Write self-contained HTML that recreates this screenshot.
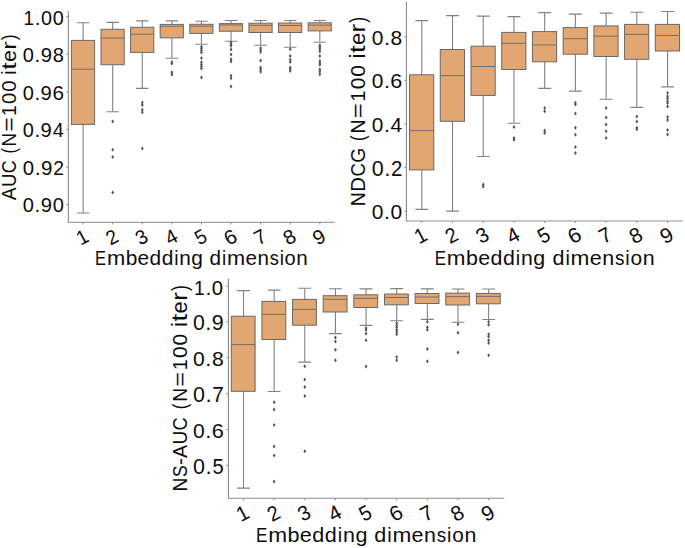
<!DOCTYPE html>
<html lang="en">
<head>
<meta charset="utf-8">
<title>Boxplots</title>
<style>
html,body{margin:0;padding:0;background:#fff;}
body{width:685px;height:548px;overflow:hidden;font-family:"Liberation Sans",sans-serif;}
svg{display:block;}
</style>
</head>
<body>
<svg width="685" height="548" viewBox="0 0 685 548" font-family="'Liberation Sans', sans-serif" fill="#0d0d0d">
<rect x="0" y="0" width="685" height="548" fill="#fff"/>
<g>
<path d="M83.1 22.8V40.4M83.1 124.4V213" stroke="#828282" stroke-width="1.1" fill="none"/>
<path d="M76.89 22.8H89.31M76.89 213H89.31" stroke="#828282" stroke-width="1.1" fill="none"/>
<rect x="71.4" y="40.4" width="23.2" height="84" fill="#E2A672" stroke="#6c6866" stroke-width="1"/>
<path d="M71.4 69.2H94.6" stroke="#6c6866" stroke-width="0.9" fill="none"/>
<path d="M112.69 22.4V29.3M112.69 64.7V111.8" stroke="#828282" stroke-width="1.1" fill="none"/>
<path d="M106.48 22.4H118.9M106.48 111.8H118.9" stroke="#828282" stroke-width="1.1" fill="none"/>
<rect x="100.99" y="29.3" width="23.2" height="35.4" fill="#E2A672" stroke="#6c6866" stroke-width="1"/>
<path d="M100.99 38.1H124.19" stroke="#6c6866" stroke-width="0.9" fill="none"/>
<path d="M112.69 119.6l1.4 2l-1.4 2l-1.4 -2z" fill="#555555"/>
<path d="M112.69 147.7l1.4 2l-1.4 2l-1.4 -2z" fill="#555555"/>
<path d="M112.69 155l1.4 2l-1.4 2l-1.4 -2z" fill="#555555"/>
<path d="M112.69 190.5l1.4 2l-1.4 2l-1.4 -2z" fill="#555555"/>
<path d="M142.28 20.9V27.3M142.28 52.4V88.4" stroke="#828282" stroke-width="1.1" fill="none"/>
<path d="M136.07 20.9H148.49M136.07 88.4H148.49" stroke="#828282" stroke-width="1.1" fill="none"/>
<rect x="130.58" y="27.3" width="23.2" height="25.1" fill="#E2A672" stroke="#6c6866" stroke-width="1"/>
<path d="M130.58 34.2H153.78" stroke="#6c6866" stroke-width="0.9" fill="none"/>
<path d="M142.28 100.5l1.4 2l-1.4 2l-1.4 -2z" fill="#555555"/>
<path d="M142.28 103l1.4 2l-1.4 2l-1.4 -2z" fill="#555555"/>
<path d="M142.28 107.8l1.4 2l-1.4 2l-1.4 -2z" fill="#555555"/>
<path d="M142.28 110.3l1.4 2l-1.4 2l-1.4 -2z" fill="#555555"/>
<path d="M142.28 146.4l1.4 2l-1.4 2l-1.4 -2z" fill="#555555"/>
<path d="M171.87 20.9V24.4M171.87 37.9V58.3" stroke="#828282" stroke-width="1.1" fill="none"/>
<path d="M165.66 20.9H178.08M165.66 58.3H178.08" stroke="#828282" stroke-width="1.1" fill="none"/>
<rect x="160.17" y="24.4" width="23.2" height="13.5" fill="#E2A672" stroke="#6c6866" stroke-width="1"/>
<path d="M160.17 26.3H183.37" stroke="#6c6866" stroke-width="0.9" fill="none"/>
<path d="M171.87 60l1.4 2l-1.4 2l-1.4 -2z" fill="#555555"/>
<path d="M171.87 61.6l1.4 2l-1.4 2l-1.4 -2z" fill="#555555"/>
<path d="M171.87 70.3l1.4 2l-1.4 2l-1.4 -2z" fill="#555555"/>
<path d="M171.87 72.4l1.4 2l-1.4 2l-1.4 -2z" fill="#555555"/>
<path d="M201.46 21.3V24.3M201.46 33.4V44.3" stroke="#828282" stroke-width="1.1" fill="none"/>
<path d="M195.25 21.3H207.67M195.25 44.3H207.67" stroke="#828282" stroke-width="1.1" fill="none"/>
<rect x="189.76" y="24.3" width="23.2" height="9.1" fill="#E2A672" stroke="#6c6866" stroke-width="1"/>
<path d="M189.76 26.2H212.96" stroke="#6c6866" stroke-width="0.9" fill="none"/>
<path d="M201.46 44.8l1.4 2l-1.4 2l-1.4 -2z" fill="#555555"/>
<path d="M201.46 46.6l1.4 2l-1.4 2l-1.4 -2z" fill="#555555"/>
<path d="M201.46 48.6l1.4 2l-1.4 2l-1.4 -2z" fill="#555555"/>
<path d="M201.46 50.6l1.4 2l-1.4 2l-1.4 -2z" fill="#555555"/>
<path d="M201.46 56l1.4 2l-1.4 2l-1.4 -2z" fill="#555555"/>
<path d="M201.46 60.2l1.4 2l-1.4 2l-1.4 -2z" fill="#555555"/>
<path d="M201.46 62.4l1.4 2l-1.4 2l-1.4 -2z" fill="#555555"/>
<path d="M201.46 64.6l1.4 2l-1.4 2l-1.4 -2z" fill="#555555"/>
<path d="M201.46 66.6l1.4 2l-1.4 2l-1.4 -2z" fill="#555555"/>
<path d="M201.46 75.4l1.4 2l-1.4 2l-1.4 -2z" fill="#555555"/>
<path d="M231.05 20.5V23.6M231.05 31.2V41.3" stroke="#828282" stroke-width="1.1" fill="none"/>
<path d="M224.84 20.5H237.26M224.84 41.3H237.26" stroke="#828282" stroke-width="1.1" fill="none"/>
<rect x="219.35" y="23.6" width="23.2" height="7.6" fill="#E2A672" stroke="#6c6866" stroke-width="1"/>
<path d="M219.35 24.9H242.55" stroke="#6c6866" stroke-width="0.9" fill="none"/>
<path d="M231.05 40.6l1.4 2l-1.4 2l-1.4 -2z" fill="#555555"/>
<path d="M231.05 42.2l1.4 2l-1.4 2l-1.4 -2z" fill="#555555"/>
<path d="M231.05 43.8l1.4 2l-1.4 2l-1.4 -2z" fill="#555555"/>
<path d="M231.05 47.4l1.4 2l-1.4 2l-1.4 -2z" fill="#555555"/>
<path d="M231.05 52.6l1.4 2l-1.4 2l-1.4 -2z" fill="#555555"/>
<path d="M231.05 57.2l1.4 2l-1.4 2l-1.4 -2z" fill="#555555"/>
<path d="M231.05 59.4l1.4 2l-1.4 2l-1.4 -2z" fill="#555555"/>
<path d="M231.05 73.8l1.4 2l-1.4 2l-1.4 -2z" fill="#555555"/>
<path d="M231.05 76.2l1.4 2l-1.4 2l-1.4 -2z" fill="#555555"/>
<path d="M231.05 84.4l1.4 2l-1.4 2l-1.4 -2z" fill="#555555"/>
<path d="M260.64 20.5V23.2M260.64 32.5V45.2" stroke="#828282" stroke-width="1.1" fill="none"/>
<path d="M254.43 20.5H266.85M254.43 45.2H266.85" stroke="#828282" stroke-width="1.1" fill="none"/>
<rect x="248.94" y="23.2" width="23.2" height="9.3" fill="#E2A672" stroke="#6c6866" stroke-width="1"/>
<path d="M248.94 25.3H272.14" stroke="#6c6866" stroke-width="0.9" fill="none"/>
<path d="M260.64 46l1.4 2l-1.4 2l-1.4 -2z" fill="#555555"/>
<path d="M260.64 48.1l1.4 2l-1.4 2l-1.4 -2z" fill="#555555"/>
<path d="M260.64 50l1.4 2l-1.4 2l-1.4 -2z" fill="#555555"/>
<path d="M260.64 58.4l1.4 2l-1.4 2l-1.4 -2z" fill="#555555"/>
<path d="M260.64 65.4l1.4 2l-1.4 2l-1.4 -2z" fill="#555555"/>
<path d="M260.64 67.6l1.4 2l-1.4 2l-1.4 -2z" fill="#555555"/>
<path d="M260.64 69.7l1.4 2l-1.4 2l-1.4 -2z" fill="#555555"/>
<path d="M290.23 20.5V23M290.23 32.5V47.3" stroke="#828282" stroke-width="1.1" fill="none"/>
<path d="M284.02 20.5H296.44M284.02 47.3H296.44" stroke="#828282" stroke-width="1.1" fill="none"/>
<rect x="278.53" y="23" width="23.2" height="9.5" fill="#E2A672" stroke="#6c6866" stroke-width="1"/>
<path d="M278.53 25.5H301.73" stroke="#6c6866" stroke-width="0.9" fill="none"/>
<path d="M290.23 47.2l1.4 2l-1.4 2l-1.4 -2z" fill="#555555"/>
<path d="M290.23 54l1.4 2l-1.4 2l-1.4 -2z" fill="#555555"/>
<path d="M290.23 57.8l1.4 2l-1.4 2l-1.4 -2z" fill="#555555"/>
<path d="M290.23 60l1.4 2l-1.4 2l-1.4 -2z" fill="#555555"/>
<path d="M290.23 65.4l1.4 2l-1.4 2l-1.4 -2z" fill="#555555"/>
<path d="M290.23 67l1.4 2l-1.4 2l-1.4 -2z" fill="#555555"/>
<path d="M290.23 68.9l1.4 2l-1.4 2l-1.4 -2z" fill="#555555"/>
<path d="M319.82 20.5V22.8M319.82 30.9V42.2" stroke="#828282" stroke-width="1.1" fill="none"/>
<path d="M313.61 20.5H326.03M313.61 42.2H326.03" stroke="#828282" stroke-width="1.1" fill="none"/>
<rect x="308.12" y="22.8" width="23.2" height="8.1" fill="#E2A672" stroke="#6c6866" stroke-width="1"/>
<path d="M308.12 25.1H331.32" stroke="#6c6866" stroke-width="0.9" fill="none"/>
<path d="M319.82 43.3l1.4 2l-1.4 2l-1.4 -2z" fill="#555555"/>
<path d="M319.82 45.2l1.4 2l-1.4 2l-1.4 -2z" fill="#555555"/>
<path d="M319.82 47l1.4 2l-1.4 2l-1.4 -2z" fill="#555555"/>
<path d="M319.82 49.2l1.4 2l-1.4 2l-1.4 -2z" fill="#555555"/>
<path d="M319.82 54l1.4 2l-1.4 2l-1.4 -2z" fill="#555555"/>
<path d="M319.82 58.9l1.4 2l-1.4 2l-1.4 -2z" fill="#555555"/>
<path d="M319.82 61.1l1.4 2l-1.4 2l-1.4 -2z" fill="#555555"/>
<path d="M319.82 62.7l1.4 2l-1.4 2l-1.4 -2z" fill="#555555"/>
<path d="M319.82 67.6l1.4 2l-1.4 2l-1.4 -2z" fill="#555555"/>
<path d="M319.82 69.7l1.4 2l-1.4 2l-1.4 -2z" fill="#555555"/>
<path d="M319.82 72.2l1.4 2l-1.4 2l-1.4 -2z" fill="#555555"/>
<path d="M68.3 11.2V222.9" stroke="#7d7d7d" stroke-width="1" fill="none"/>
<path d="M67.8 222.4H334.7" stroke="#a2a2a2" stroke-width="1.1" fill="none"/>
<path d="M83.1 222.4v2M112.69 222.4v2M142.28 222.4v2M171.87 222.4v2M201.46 222.4v2M231.05 222.4v2M260.64 222.4v2M290.23 222.4v2M319.82 222.4v2M68.3 16.5h-2M68.3 54.2h-2M68.3 92h-2M68.3 129.3h-2M68.3 167.2h-2M68.3 204.4h-2" stroke="#8a8a8a" stroke-width="1" fill="none"/>
<g font-size="19.77"><text x="23.39" y="24.56" textLength="10.48" lengthAdjust="spacingAndGlyphs">1</text><text x="34.71" y="24.56" textLength="5.72" lengthAdjust="spacingAndGlyphs">.</text><text x="40.95" y="24.56" textLength="11.02" lengthAdjust="spacingAndGlyphs">0</text><text x="52.8" y="24.56" textLength="11.02" lengthAdjust="spacingAndGlyphs">0</text></g>
<g font-size="20"><text x="22.8" y="62.26" textLength="11.15" lengthAdjust="spacingAndGlyphs">0</text><text x="34.47" y="62.26" textLength="5.79" lengthAdjust="spacingAndGlyphs">.</text><text x="40.67" y="62.26" textLength="11.27" lengthAdjust="spacingAndGlyphs">9</text><text x="52.77" y="62.26" textLength="11.15" lengthAdjust="spacingAndGlyphs">8</text></g>
<g font-size="19.95"><text x="22.8" y="100.06" textLength="11.12" lengthAdjust="spacingAndGlyphs">0</text><text x="34.45" y="100.06" textLength="5.77" lengthAdjust="spacingAndGlyphs">.</text><text x="40.63" y="100.06" textLength="11.25" lengthAdjust="spacingAndGlyphs">9</text><text x="52.57" y="100.06" textLength="11.48" lengthAdjust="spacingAndGlyphs">6</text></g>
<g font-size="19.91"><text x="22.8" y="137.36" textLength="11.09" lengthAdjust="spacingAndGlyphs">0</text><text x="34.42" y="137.36" textLength="5.76" lengthAdjust="spacingAndGlyphs">.</text><text x="40.59" y="137.36" textLength="11.22" lengthAdjust="spacingAndGlyphs">9</text><text x="52.66" y="137.36" textLength="11.06" lengthAdjust="spacingAndGlyphs">4</text></g>
<g font-size="20.34"><text x="22.78" y="175.26" textLength="11.34" lengthAdjust="spacingAndGlyphs">0</text><text x="34.66" y="175.26" textLength="5.89" lengthAdjust="spacingAndGlyphs">.</text><text x="40.96" y="175.26" textLength="11.46" lengthAdjust="spacingAndGlyphs">9</text><text x="53.31" y="175.26" textLength="10.78" lengthAdjust="spacingAndGlyphs">2</text></g>
<g font-size="20"><text x="22.8" y="212.46" textLength="11.15" lengthAdjust="spacingAndGlyphs">0</text><text x="34.47" y="212.46" textLength="5.79" lengthAdjust="spacingAndGlyphs">.</text><text x="40.67" y="212.46" textLength="11.27" lengthAdjust="spacingAndGlyphs">9</text><text x="52.78" y="212.46" textLength="11.15" lengthAdjust="spacingAndGlyphs">0</text></g>
<g font-size="20.16" transform="rotate(-28 82.4 237)"><text x="76.83" y="243.96" textLength="10.69" lengthAdjust="spacingAndGlyphs">1</text></g>
<g font-size="20.16" transform="rotate(-28 111.99 237)"><text x="106.66" y="244.06" textLength="10.68" lengthAdjust="spacingAndGlyphs">2</text></g>
<g font-size="20.16" transform="rotate(-28 141.58 237)"><text x="136.24" y="243.96" textLength="10.79" lengthAdjust="spacingAndGlyphs">3</text></g>
<g font-size="20.16" transform="rotate(-28 171.17 237)"><text x="165.63" y="243.96" textLength="11.2" lengthAdjust="spacingAndGlyphs">4</text></g>
<g font-size="20.16" transform="rotate(-28 200.76 237)"><text x="195.49" y="243.85" textLength="10.57" lengthAdjust="spacingAndGlyphs">5</text></g>
<g font-size="20.16" transform="rotate(-28 230.35 237)"><text x="224.51" y="243.96" textLength="11.6" lengthAdjust="spacingAndGlyphs">6</text></g>
<g font-size="20.16" transform="rotate(-28 259.94 237)"><text x="254.49" y="243.96" textLength="10.92" lengthAdjust="spacingAndGlyphs">7</text></g>
<g font-size="20.16" transform="rotate(-28 289.53 237)"><text x="283.87" y="243.96" textLength="11.24" lengthAdjust="spacingAndGlyphs">8</text></g>
<g font-size="20.16" transform="rotate(-28 319.12 237)"><text x="313.45" y="243.96" textLength="11.36" lengthAdjust="spacingAndGlyphs">9</text></g>
<g font-size="20.36"><text x="95.08" y="264.9" textLength="11.04" lengthAdjust="spacingAndGlyphs">E</text><text x="106.91" y="264.9" textLength="18.27" lengthAdjust="spacingAndGlyphs">m</text><text x="125.67" y="264.9" textLength="11.62" lengthAdjust="spacingAndGlyphs">b</text><text x="137.6" y="264.9" textLength="11.59" lengthAdjust="spacingAndGlyphs">e</text><text x="149.51" y="264.9" textLength="11.62" lengthAdjust="spacingAndGlyphs">d</text><text x="161.69" y="264.9" textLength="11.62" lengthAdjust="spacingAndGlyphs">d</text><text x="174.22" y="264.9" textLength="4.26" lengthAdjust="spacingAndGlyphs">i</text><text x="179.36" y="264.9" textLength="11.55" lengthAdjust="spacingAndGlyphs">n</text><text x="191.36" y="264.9" textLength="11.62" lengthAdjust="spacingAndGlyphs">g</text></g>
<g font-size="20.23"><text x="209.57" y="264.9" textLength="11.54" lengthAdjust="spacingAndGlyphs">d</text><text x="222.02" y="264.9" textLength="4.24" lengthAdjust="spacingAndGlyphs">i</text><text x="227.05" y="264.9" textLength="18.15" lengthAdjust="spacingAndGlyphs">m</text><text x="245.43" y="264.9" textLength="11.51" lengthAdjust="spacingAndGlyphs">e</text><text x="257.42" y="264.9" textLength="11.47" lengthAdjust="spacingAndGlyphs">n</text><text x="269.63" y="264.9" textLength="9.09" lengthAdjust="spacingAndGlyphs">s</text><text x="279.63" y="264.9" textLength="4.24" lengthAdjust="spacingAndGlyphs">i</text><text x="284.6" y="264.9" textLength="11.16" lengthAdjust="spacingAndGlyphs">o</text><text x="296.39" y="264.9" textLength="11.47" lengthAdjust="spacingAndGlyphs">n</text></g>
<g font-size="20.23" transform="translate(15.7 200.1) rotate(-90)"><text x="-0.1" y="0" textLength="12.81" lengthAdjust="spacingAndGlyphs">A</text><text x="13.07" y="0" textLength="13.53" lengthAdjust="spacingAndGlyphs">U</text><text x="26.96" y="0" textLength="12.89" lengthAdjust="spacingAndGlyphs">C</text></g>
<g font-size="20.23" transform="translate(15.7 152.6) rotate(-90)"><text x="-0.97" y="0" textLength="5.39" lengthAdjust="spacingAndGlyphs">(</text><text x="6.23" y="0" textLength="13.53" lengthAdjust="spacingAndGlyphs">N</text><text x="20.86" y="0" textLength="14.35" lengthAdjust="spacingAndGlyphs">=</text><text x="36.71" y="0" textLength="10.73" lengthAdjust="spacingAndGlyphs">1</text><text x="48.63" y="0" textLength="11.28" lengthAdjust="spacingAndGlyphs">0</text><text x="60.76" y="0" textLength="11.28" lengthAdjust="spacingAndGlyphs">0</text></g>
<g font-size="20.98" transform="translate(15.7 73.4) rotate(-90)"><text x="-1.29" y="0" textLength="4.39" lengthAdjust="spacingAndGlyphs">i</text><text x="3.71" y="0" textLength="7.43" lengthAdjust="spacingAndGlyphs">t</text><text x="11.49" y="0" textLength="11.95" lengthAdjust="spacingAndGlyphs">e</text><text x="23.67" y="0" textLength="8.43" lengthAdjust="spacingAndGlyphs">r</text><text x="33.08" y="0" textLength="5.7" lengthAdjust="spacingAndGlyphs">)</text></g>
</g>
<g>
<path d="M421.8 20.6V74.8M421.8 169.9V209.4" stroke="#828282" stroke-width="1.1" fill="none"/>
<path d="M415.35 20.6H428.25M415.35 209.4H428.25" stroke="#828282" stroke-width="1.1" fill="none"/>
<rect x="409.55" y="74.8" width="24.21" height="95.1" fill="#E2A672" stroke="#6c6866" stroke-width="1"/>
<path d="M409.55 130.6H433.75" stroke="#6c6866" stroke-width="0.9" fill="none"/>
<path d="M452.52 15.6V49.5M452.52 121.3V211.1" stroke="#828282" stroke-width="1.1" fill="none"/>
<path d="M446.07 15.6H458.97M446.07 211.1H458.97" stroke="#828282" stroke-width="1.1" fill="none"/>
<rect x="440.27" y="49.5" width="24.21" height="71.8" fill="#E2A672" stroke="#6c6866" stroke-width="1"/>
<path d="M440.27 75.6H464.47" stroke="#6c6866" stroke-width="0.9" fill="none"/>
<path d="M483.24 16.1V46.2M483.24 95.4V156.5" stroke="#828282" stroke-width="1.1" fill="none"/>
<path d="M476.79 16.1H489.69M476.79 156.5H489.69" stroke="#828282" stroke-width="1.1" fill="none"/>
<rect x="470.99" y="46.2" width="24.21" height="49.2" fill="#E2A672" stroke="#6c6866" stroke-width="1"/>
<path d="M470.99 66.5H495.19" stroke="#6c6866" stroke-width="0.9" fill="none"/>
<path d="M483.24 182.6l1.4 2l-1.4 2l-1.4 -2z" fill="#555555"/>
<path d="M483.24 184.7l1.4 2l-1.4 2l-1.4 -2z" fill="#555555"/>
<path d="M513.96 16.6V32.4M513.96 69.5V123.3" stroke="#828282" stroke-width="1.1" fill="none"/>
<path d="M507.51 16.6H520.41M507.51 123.3H520.41" stroke="#828282" stroke-width="1.1" fill="none"/>
<rect x="501.71" y="32.4" width="24.21" height="37.1" fill="#E2A672" stroke="#6c6866" stroke-width="1"/>
<path d="M501.71 43.3H525.91" stroke="#6c6866" stroke-width="0.9" fill="none"/>
<path d="M513.96 125.1l1.4 2l-1.4 2l-1.4 -2z" fill="#555555"/>
<path d="M513.96 135.9l1.4 2l-1.4 2l-1.4 -2z" fill="#555555"/>
<path d="M513.96 137.8l1.4 2l-1.4 2l-1.4 -2z" fill="#555555"/>
<path d="M544.68 12.6V31.6M544.68 61.8V88.4" stroke="#828282" stroke-width="1.1" fill="none"/>
<path d="M538.23 12.6H551.13M538.23 88.4H551.13" stroke="#828282" stroke-width="1.1" fill="none"/>
<rect x="532.43" y="31.6" width="24.21" height="30.2" fill="#E2A672" stroke="#6c6866" stroke-width="1"/>
<path d="M532.43 44.9H556.63" stroke="#6c6866" stroke-width="0.9" fill="none"/>
<path d="M544.68 106l1.4 2l-1.4 2l-1.4 -2z" fill="#555555"/>
<path d="M544.68 109.2l1.4 2l-1.4 2l-1.4 -2z" fill="#555555"/>
<path d="M544.68 128.4l1.4 2l-1.4 2l-1.4 -2z" fill="#555555"/>
<path d="M544.68 131.1l1.4 2l-1.4 2l-1.4 -2z" fill="#555555"/>
<path d="M575.4 14.1V27.6M575.4 54.2V91.1" stroke="#828282" stroke-width="1.1" fill="none"/>
<path d="M568.95 14.1H581.85M568.95 91.1H581.85" stroke="#828282" stroke-width="1.1" fill="none"/>
<rect x="563.15" y="27.6" width="24.21" height="26.6" fill="#E2A672" stroke="#6c6866" stroke-width="1"/>
<path d="M563.15 38.7H587.35" stroke="#6c6866" stroke-width="0.9" fill="none"/>
<path d="M575.4 100.8l1.4 2l-1.4 2l-1.4 -2z" fill="#555555"/>
<path d="M575.4 102.4l1.4 2l-1.4 2l-1.4 -2z" fill="#555555"/>
<path d="M575.4 111.4l1.4 2l-1.4 2l-1.4 -2z" fill="#555555"/>
<path d="M575.4 125.7l1.4 2l-1.4 2l-1.4 -2z" fill="#555555"/>
<path d="M575.4 132.7l1.4 2l-1.4 2l-1.4 -2z" fill="#555555"/>
<path d="M575.4 145.1l1.4 2l-1.4 2l-1.4 -2z" fill="#555555"/>
<path d="M575.4 151l1.4 2l-1.4 2l-1.4 -2z" fill="#555555"/>
<path d="M606.12 13.1V25.9M606.12 56.5V99.2" stroke="#828282" stroke-width="1.1" fill="none"/>
<path d="M599.67 13.1H612.57M599.67 99.2H612.57" stroke="#828282" stroke-width="1.1" fill="none"/>
<rect x="593.87" y="25.9" width="24.21" height="30.6" fill="#E2A672" stroke="#6c6866" stroke-width="1"/>
<path d="M593.87 36.2H618.07" stroke="#6c6866" stroke-width="0.9" fill="none"/>
<path d="M606.12 106l1.4 2l-1.4 2l-1.4 -2z" fill="#555555"/>
<path d="M606.12 115.4l1.4 2l-1.4 2l-1.4 -2z" fill="#555555"/>
<path d="M606.12 122.4l1.4 2l-1.4 2l-1.4 -2z" fill="#555555"/>
<path d="M606.12 129.2l1.4 2l-1.4 2l-1.4 -2z" fill="#555555"/>
<path d="M606.12 135.9l1.4 2l-1.4 2l-1.4 -2z" fill="#555555"/>
<path d="M636.84 12.3V24.4M636.84 59.3V107.4" stroke="#828282" stroke-width="1.1" fill="none"/>
<path d="M630.39 12.3H643.29M630.39 107.4H643.29" stroke="#828282" stroke-width="1.1" fill="none"/>
<rect x="624.59" y="24.4" width="24.21" height="34.9" fill="#E2A672" stroke="#6c6866" stroke-width="1"/>
<path d="M624.59 34.4H648.79" stroke="#6c6866" stroke-width="0.9" fill="none"/>
<path d="M636.84 114.6l1.4 2l-1.4 2l-1.4 -2z" fill="#555555"/>
<path d="M636.84 119.5l1.4 2l-1.4 2l-1.4 -2z" fill="#555555"/>
<path d="M636.84 125.7l1.4 2l-1.4 2l-1.4 -2z" fill="#555555"/>
<path d="M636.84 127.3l1.4 2l-1.4 2l-1.4 -2z" fill="#555555"/>
<path d="M667.56 11.5V24.4M667.56 51V86.9" stroke="#828282" stroke-width="1.1" fill="none"/>
<path d="M661.11 11.5H674.01M661.11 86.9H674.01" stroke="#828282" stroke-width="1.1" fill="none"/>
<rect x="655.31" y="24.4" width="24.21" height="26.6" fill="#E2A672" stroke="#6c6866" stroke-width="1"/>
<path d="M655.31 35.4H679.51" stroke="#6c6866" stroke-width="0.9" fill="none"/>
<path d="M667.56 91.1l1.4 2l-1.4 2l-1.4 -2z" fill="#555555"/>
<path d="M667.56 94.3l1.4 2l-1.4 2l-1.4 -2z" fill="#555555"/>
<path d="M667.56 96.5l1.4 2l-1.4 2l-1.4 -2z" fill="#555555"/>
<path d="M667.56 99.2l1.4 2l-1.4 2l-1.4 -2z" fill="#555555"/>
<path d="M667.56 101.1l1.4 2l-1.4 2l-1.4 -2z" fill="#555555"/>
<path d="M667.56 104.6l1.4 2l-1.4 2l-1.4 -2z" fill="#555555"/>
<path d="M667.56 114.9l1.4 2l-1.4 2l-1.4 -2z" fill="#555555"/>
<path d="M667.56 118.1l1.4 2l-1.4 2l-1.4 -2z" fill="#555555"/>
<path d="M667.56 128.1l1.4 2l-1.4 2l-1.4 -2z" fill="#555555"/>
<path d="M667.56 132.4l1.4 2l-1.4 2l-1.4 -2z" fill="#555555"/>
<path d="M406.4 1.8V221.5" stroke="#7d7d7d" stroke-width="1" fill="none"/>
<path d="M405.9 221H683" stroke="#939393" stroke-width="1.1" fill="none"/>
<path d="M421.8 221v2M452.52 221v2M483.24 221v2M513.96 221v2M544.68 221v2M575.4 221v2M606.12 221v2M636.84 221v2M667.56 221v2M406.4 36.7h-2M406.4 80.35h-2M406.4 124h-2M406.4 167.65h-2M406.4 211.3h-2" stroke="#8a8a8a" stroke-width="1" fill="none"/>
<g font-size="20.94"><text x="371.76" y="44.83" textLength="11.67" lengthAdjust="spacingAndGlyphs">0</text><text x="383.98" y="44.83" textLength="6.06" lengthAdjust="spacingAndGlyphs">.</text><text x="390.59" y="44.83" textLength="11.68" lengthAdjust="spacingAndGlyphs">8</text></g>
<g font-size="20.87"><text x="371.76" y="88.48" textLength="11.63" lengthAdjust="spacingAndGlyphs">0</text><text x="383.95" y="88.48" textLength="6.04" lengthAdjust="spacingAndGlyphs">.</text><text x="390.39" y="88.48" textLength="12.01" lengthAdjust="spacingAndGlyphs">6</text></g>
<g font-size="20.8"><text x="371.77" y="132.13" textLength="11.59" lengthAdjust="spacingAndGlyphs">0</text><text x="383.91" y="132.13" textLength="6.02" lengthAdjust="spacingAndGlyphs">.</text><text x="390.49" y="132.13" textLength="11.56" lengthAdjust="spacingAndGlyphs">4</text></g>
<g font-size="21.46"><text x="371.74" y="175.78" textLength="11.96" lengthAdjust="spacingAndGlyphs">0</text><text x="384.26" y="175.78" textLength="6.21" lengthAdjust="spacingAndGlyphs">.</text><text x="391.08" y="175.78" textLength="11.37" lengthAdjust="spacingAndGlyphs">2</text></g>
<g font-size="20.94"><text x="371.76" y="219.43" textLength="11.67" lengthAdjust="spacingAndGlyphs">0</text><text x="383.98" y="219.43" textLength="6.06" lengthAdjust="spacingAndGlyphs">.</text><text x="390.59" y="219.43" textLength="11.67" lengthAdjust="spacingAndGlyphs">0</text></g>
<g font-size="20.96" transform="rotate(-28 420.8 235.3)"><text x="415.01" y="242.53" textLength="11.11" lengthAdjust="spacingAndGlyphs">1</text></g>
<g font-size="20.96" transform="rotate(-28 451.52 235.3)"><text x="445.98" y="242.63" textLength="11.11" lengthAdjust="spacingAndGlyphs">2</text></g>
<g font-size="20.96" transform="rotate(-28 482.24 235.3)"><text x="476.69" y="242.53" textLength="11.22" lengthAdjust="spacingAndGlyphs">3</text></g>
<g font-size="20.96" transform="rotate(-28 512.96 235.3)"><text x="507.2" y="242.53" textLength="11.64" lengthAdjust="spacingAndGlyphs">4</text></g>
<g font-size="20.96" transform="rotate(-28 543.68 235.3)"><text x="538.2" y="242.42" textLength="10.98" lengthAdjust="spacingAndGlyphs">5</text></g>
<g font-size="20.96" transform="rotate(-28 574.4 235.3)"><text x="568.33" y="242.53" textLength="12.06" lengthAdjust="spacingAndGlyphs">6</text></g>
<g font-size="20.96" transform="rotate(-28 605.12 235.3)"><text x="599.46" y="242.53" textLength="11.35" lengthAdjust="spacingAndGlyphs">7</text></g>
<g font-size="20.96" transform="rotate(-28 635.84 235.3)"><text x="629.96" y="242.53" textLength="11.69" lengthAdjust="spacingAndGlyphs">8</text></g>
<g font-size="20.96" transform="rotate(-28 666.56 235.3)"><text x="660.67" y="242.53" textLength="11.81" lengthAdjust="spacingAndGlyphs">9</text></g>
<g font-size="20.86"><text x="434.64" y="264.6" textLength="11.31" lengthAdjust="spacingAndGlyphs">E</text><text x="446.77" y="264.6" textLength="18.72" lengthAdjust="spacingAndGlyphs">m</text><text x="465.99" y="264.6" textLength="11.91" lengthAdjust="spacingAndGlyphs">b</text><text x="478.22" y="264.6" textLength="11.88" lengthAdjust="spacingAndGlyphs">e</text><text x="490.42" y="264.6" textLength="11.91" lengthAdjust="spacingAndGlyphs">d</text><text x="502.9" y="264.6" textLength="11.91" lengthAdjust="spacingAndGlyphs">d</text><text x="515.75" y="264.6" textLength="4.37" lengthAdjust="spacingAndGlyphs">i</text><text x="521.01" y="264.6" textLength="11.84" lengthAdjust="spacingAndGlyphs">n</text><text x="533.31" y="264.6" textLength="11.91" lengthAdjust="spacingAndGlyphs">g</text></g>
<g font-size="21.05"><text x="552.44" y="264.6" textLength="12.01" lengthAdjust="spacingAndGlyphs">d</text><text x="565.4" y="264.6" textLength="4.41" lengthAdjust="spacingAndGlyphs">i</text><text x="570.62" y="264.6" textLength="18.88" lengthAdjust="spacingAndGlyphs">m</text><text x="589.76" y="264.6" textLength="11.98" lengthAdjust="spacingAndGlyphs">e</text><text x="602.23" y="264.6" textLength="11.94" lengthAdjust="spacingAndGlyphs">n</text><text x="614.93" y="264.6" textLength="9.46" lengthAdjust="spacingAndGlyphs">s</text><text x="625.34" y="264.6" textLength="4.41" lengthAdjust="spacingAndGlyphs">i</text><text x="630.51" y="264.6" textLength="11.61" lengthAdjust="spacingAndGlyphs">o</text><text x="642.78" y="264.6" textLength="11.94" lengthAdjust="spacingAndGlyphs">n</text></g>
<g font-size="20.98" transform="translate(365.2 204.8) rotate(-90)"><text x="-1.55" y="0" textLength="14.03" lengthAdjust="spacingAndGlyphs">N</text><text x="13.17" y="0" textLength="14.64" lengthAdjust="spacingAndGlyphs">D</text><text x="28.21" y="0" textLength="13.38" lengthAdjust="spacingAndGlyphs">C</text><text x="41.98" y="0" textLength="15.03" lengthAdjust="spacingAndGlyphs">G</text></g>
<g font-size="21.03" transform="translate(365.2 139.9) rotate(-90)"><text x="-1.01" y="0" textLength="5.6" lengthAdjust="spacingAndGlyphs">(</text><text x="6.47" y="0" textLength="14.06" lengthAdjust="spacingAndGlyphs">N</text><text x="21.68" y="0" textLength="14.92" lengthAdjust="spacingAndGlyphs">=</text><text x="38.16" y="0" textLength="11.15" lengthAdjust="spacingAndGlyphs">1</text><text x="50.54" y="0" textLength="11.72" lengthAdjust="spacingAndGlyphs">0</text><text x="63.15" y="0" textLength="11.72" lengthAdjust="spacingAndGlyphs">0</text></g>
<g font-size="21.65" transform="translate(365.2 56.8) rotate(-90)"><text x="-1.33" y="0" textLength="4.53" lengthAdjust="spacingAndGlyphs">i</text><text x="3.83" y="0" textLength="7.67" lengthAdjust="spacingAndGlyphs">t</text><text x="11.86" y="0" textLength="12.33" lengthAdjust="spacingAndGlyphs">e</text><text x="24.42" y="0" textLength="8.7" lengthAdjust="spacingAndGlyphs">r</text><text x="34.13" y="0" textLength="5.88" lengthAdjust="spacingAndGlyphs">)</text></g>
</g>
<g>
<path d="M243.5 290.6V316.2M243.5 391.3V488.1" stroke="#828282" stroke-width="1.1" fill="none"/>
<path d="M237.07 290.6H249.93M237.07 488.1H249.93" stroke="#828282" stroke-width="1.1" fill="none"/>
<rect x="231.28" y="316.2" width="23.84" height="75.1" fill="#E2A672" stroke="#6c6866" stroke-width="1"/>
<path d="M231.28 344.6H255.12" stroke="#6c6866" stroke-width="0.9" fill="none"/>
<path d="M274.14 290.1V301.4M274.14 339.5V391.5" stroke="#828282" stroke-width="1.1" fill="none"/>
<path d="M267.71 290.1H280.57M267.71 391.5H280.57" stroke="#828282" stroke-width="1.1" fill="none"/>
<rect x="261.92" y="301.4" width="23.84" height="38.1" fill="#E2A672" stroke="#6c6866" stroke-width="1"/>
<path d="M261.92 314.4H285.76" stroke="#6c6866" stroke-width="0.9" fill="none"/>
<path d="M274.14 400.2l1.4 2l-1.4 2l-1.4 -2z" fill="#555555"/>
<path d="M274.14 407.5l1.4 2l-1.4 2l-1.4 -2z" fill="#555555"/>
<path d="M274.14 423.1l1.4 2l-1.4 2l-1.4 -2z" fill="#555555"/>
<path d="M274.14 444.4l1.4 2l-1.4 2l-1.4 -2z" fill="#555555"/>
<path d="M274.14 453.4l1.4 2l-1.4 2l-1.4 -2z" fill="#555555"/>
<path d="M274.14 479.6l1.4 2l-1.4 2l-1.4 -2z" fill="#555555"/>
<path d="M304.78 288.3V299.4M304.78 325.2V362.1" stroke="#828282" stroke-width="1.1" fill="none"/>
<path d="M298.35 288.3H311.21M298.35 362.1H311.21" stroke="#828282" stroke-width="1.1" fill="none"/>
<rect x="292.56" y="299.4" width="23.84" height="25.8" fill="#E2A672" stroke="#6c6866" stroke-width="1"/>
<path d="M292.56 309.4H316.4" stroke="#6c6866" stroke-width="0.9" fill="none"/>
<path d="M304.78 364.2l1.4 2l-1.4 2l-1.4 -2z" fill="#555555"/>
<path d="M304.78 377.5l1.4 2l-1.4 2l-1.4 -2z" fill="#555555"/>
<path d="M304.78 385l1.4 2l-1.4 2l-1.4 -2z" fill="#555555"/>
<path d="M304.78 394l1.4 2l-1.4 2l-1.4 -2z" fill="#555555"/>
<path d="M304.78 449.3l1.4 2l-1.4 2l-1.4 -2z" fill="#555555"/>
<path d="M335.42 288.8V295.7M335.42 312V333.6" stroke="#828282" stroke-width="1.1" fill="none"/>
<path d="M328.99 288.8H341.85M328.99 333.6H341.85" stroke="#828282" stroke-width="1.1" fill="none"/>
<rect x="323.2" y="295.7" width="23.84" height="16.3" fill="#E2A672" stroke="#6c6866" stroke-width="1"/>
<path d="M323.2 299.3H347.04" stroke="#6c6866" stroke-width="0.9" fill="none"/>
<path d="M335.42 335.5l1.4 2l-1.4 2l-1.4 -2z" fill="#555555"/>
<path d="M335.42 339.6l1.4 2l-1.4 2l-1.4 -2z" fill="#555555"/>
<path d="M335.42 347.7l1.4 2l-1.4 2l-1.4 -2z" fill="#555555"/>
<path d="M335.42 358.2l1.4 2l-1.4 2l-1.4 -2z" fill="#555555"/>
<path d="M366.06 288.9V294.8M366.06 307.5V325.4" stroke="#828282" stroke-width="1.1" fill="none"/>
<path d="M359.63 288.9H372.49M359.63 325.4H372.49" stroke="#828282" stroke-width="1.1" fill="none"/>
<rect x="353.84" y="294.8" width="23.84" height="12.7" fill="#E2A672" stroke="#6c6866" stroke-width="1"/>
<path d="M353.84 298.4H377.68" stroke="#6c6866" stroke-width="0.9" fill="none"/>
<path d="M366.06 326l1.4 2l-1.4 2l-1.4 -2z" fill="#555555"/>
<path d="M366.06 328l1.4 2l-1.4 2l-1.4 -2z" fill="#555555"/>
<path d="M366.06 331.5l1.4 2l-1.4 2l-1.4 -2z" fill="#555555"/>
<path d="M366.06 338.2l1.4 2l-1.4 2l-1.4 -2z" fill="#555555"/>
<path d="M366.06 364.4l1.4 2l-1.4 2l-1.4 -2z" fill="#555555"/>
<path d="M396.7 288.6V294M396.7 304.8V320.8" stroke="#828282" stroke-width="1.1" fill="none"/>
<path d="M390.27 288.6H403.13M390.27 320.8H403.13" stroke="#828282" stroke-width="1.1" fill="none"/>
<rect x="384.48" y="294" width="23.84" height="10.8" fill="#E2A672" stroke="#6c6866" stroke-width="1"/>
<path d="M384.48 297.5H408.32" stroke="#6c6866" stroke-width="0.9" fill="none"/>
<path d="M396.7 320.9l1.4 2l-1.4 2l-1.4 -2z" fill="#555555"/>
<path d="M396.7 323.4l1.4 2l-1.4 2l-1.4 -2z" fill="#555555"/>
<path d="M396.7 325.5l1.4 2l-1.4 2l-1.4 -2z" fill="#555555"/>
<path d="M396.7 328l1.4 2l-1.4 2l-1.4 -2z" fill="#555555"/>
<path d="M396.7 330.1l1.4 2l-1.4 2l-1.4 -2z" fill="#555555"/>
<path d="M396.7 332.3l1.4 2l-1.4 2l-1.4 -2z" fill="#555555"/>
<path d="M396.7 355l1.4 2l-1.4 2l-1.4 -2z" fill="#555555"/>
<path d="M396.7 358.2l1.4 2l-1.4 2l-1.4 -2z" fill="#555555"/>
<path d="M427.34 288.9V293.5M427.34 303.5V319.4" stroke="#828282" stroke-width="1.1" fill="none"/>
<path d="M420.91 288.9H433.77M420.91 319.4H433.77" stroke="#828282" stroke-width="1.1" fill="none"/>
<rect x="415.12" y="293.5" width="23.84" height="10" fill="#E2A672" stroke="#6c6866" stroke-width="1"/>
<path d="M415.12 297H438.96" stroke="#6c6866" stroke-width="0.9" fill="none"/>
<path d="M427.34 319.8l1.4 2l-1.4 2l-1.4 -2z" fill="#555555"/>
<path d="M427.34 325.3l1.4 2l-1.4 2l-1.4 -2z" fill="#555555"/>
<path d="M427.34 327.7l1.4 2l-1.4 2l-1.4 -2z" fill="#555555"/>
<path d="M427.34 347.1l1.4 2l-1.4 2l-1.4 -2z" fill="#555555"/>
<path d="M427.34 359.3l1.4 2l-1.4 2l-1.4 -2z" fill="#555555"/>
<path d="M457.98 289V293.1M457.98 305V322.3" stroke="#828282" stroke-width="1.1" fill="none"/>
<path d="M451.55 289H464.41M451.55 322.3H464.41" stroke="#828282" stroke-width="1.1" fill="none"/>
<rect x="445.76" y="293.1" width="23.84" height="11.9" fill="#E2A672" stroke="#6c6866" stroke-width="1"/>
<path d="M445.76 296.6H469.6" stroke="#6c6866" stroke-width="0.9" fill="none"/>
<path d="M457.98 322.3l1.4 2l-1.4 2l-1.4 -2z" fill="#555555"/>
<path d="M457.98 330.7l1.4 2l-1.4 2l-1.4 -2z" fill="#555555"/>
<path d="M457.98 350.4l1.4 2l-1.4 2l-1.4 -2z" fill="#555555"/>
<path d="M488.62 289V293.4M488.62 303.8V319.5" stroke="#828282" stroke-width="1.1" fill="none"/>
<path d="M482.19 289H495.05M482.19 319.5H495.05" stroke="#828282" stroke-width="1.1" fill="none"/>
<rect x="476.4" y="293.4" width="23.84" height="10.4" fill="#E2A672" stroke="#6c6866" stroke-width="1"/>
<path d="M476.4 296.4H500.24" stroke="#6c6866" stroke-width="0.9" fill="none"/>
<path d="M488.62 319.8l1.4 2l-1.4 2l-1.4 -2z" fill="#555555"/>
<path d="M488.62 322.8l1.4 2l-1.4 2l-1.4 -2z" fill="#555555"/>
<path d="M488.62 332.3l1.4 2l-1.4 2l-1.4 -2z" fill="#555555"/>
<path d="M488.62 334.4l1.4 2l-1.4 2l-1.4 -2z" fill="#555555"/>
<path d="M488.62 338.2l1.4 2l-1.4 2l-1.4 -2z" fill="#555555"/>
<path d="M488.62 340.9l1.4 2l-1.4 2l-1.4 -2z" fill="#555555"/>
<path d="M488.62 353.3l1.4 2l-1.4 2l-1.4 -2z" fill="#555555"/>
<path d="M228.4 278.8V498.7" stroke="#7d7d7d" stroke-width="1" fill="none"/>
<path d="M227.9 498.2H504.3" stroke="#8c8c8c" stroke-width="1.1" fill="none"/>
<path d="M243.5 498.2v2M274.14 498.2v2M304.78 498.2v2M335.42 498.2v2M366.06 498.2v2M396.7 498.2v2M427.34 498.2v2M457.98 498.2v2M488.62 498.2v2M228.4 285.9h-2M228.4 321.8h-2M228.4 357.7h-2M228.4 393.6h-2M228.4 429.5h-2M228.4 465.3h-2" stroke="#8a8a8a" stroke-width="1" fill="none"/>
<g font-size="20.18"><text x="193.96" y="294.53" textLength="10.7" lengthAdjust="spacingAndGlyphs">1</text><text x="205.52" y="294.53" textLength="5.84" lengthAdjust="spacingAndGlyphs">.</text><text x="211.88" y="294.53" textLength="11.25" lengthAdjust="spacingAndGlyphs">0</text></g>
<g font-size="21.16"><text x="192.95" y="330.43" textLength="11.79" lengthAdjust="spacingAndGlyphs">0</text><text x="205.3" y="330.43" textLength="6.12" lengthAdjust="spacingAndGlyphs">.</text><text x="211.86" y="330.43" textLength="11.93" lengthAdjust="spacingAndGlyphs">9</text></g>
<g font-size="21.09"><text x="192.95" y="366.33" textLength="11.75" lengthAdjust="spacingAndGlyphs">0</text><text x="205.26" y="366.33" textLength="6.1" lengthAdjust="spacingAndGlyphs">.</text><text x="211.91" y="366.33" textLength="11.76" lengthAdjust="spacingAndGlyphs">8</text></g>
<g font-size="21.38"><text x="192.94" y="402.23" textLength="11.92" lengthAdjust="spacingAndGlyphs">0</text><text x="205.42" y="402.23" textLength="6.19" lengthAdjust="spacingAndGlyphs">.</text><text x="212.29" y="402.23" textLength="11.58" lengthAdjust="spacingAndGlyphs">7</text></g>
<g font-size="21.02"><text x="192.96" y="438.13" textLength="11.71" lengthAdjust="spacingAndGlyphs">0</text><text x="205.22" y="438.13" textLength="6.08" lengthAdjust="spacingAndGlyphs">.</text><text x="211.71" y="438.13" textLength="12.09" lengthAdjust="spacingAndGlyphs">6</text></g>
<g font-size="21.38"><text x="192.94" y="473.93" textLength="11.92" lengthAdjust="spacingAndGlyphs">0</text><text x="205.42" y="473.93" textLength="6.19" lengthAdjust="spacingAndGlyphs">.</text><text x="212.42" y="473.93" textLength="11.21" lengthAdjust="spacingAndGlyphs">5</text></g>
<g font-size="20.96" transform="rotate(-28 242.8 513.1)"><text x="237.01" y="520.33" textLength="11.11" lengthAdjust="spacingAndGlyphs">1</text></g>
<g font-size="20.96" transform="rotate(-28 273.44 513.1)"><text x="267.9" y="520.43" textLength="11.11" lengthAdjust="spacingAndGlyphs">2</text></g>
<g font-size="20.96" transform="rotate(-28 304.08 513.1)"><text x="298.53" y="520.33" textLength="11.22" lengthAdjust="spacingAndGlyphs">3</text></g>
<g font-size="20.96" transform="rotate(-28 334.72 513.1)"><text x="328.96" y="520.33" textLength="11.64" lengthAdjust="spacingAndGlyphs">4</text></g>
<g font-size="20.96" transform="rotate(-28 365.36 513.1)"><text x="359.88" y="520.22" textLength="10.98" lengthAdjust="spacingAndGlyphs">5</text></g>
<g font-size="20.96" transform="rotate(-28 396 513.1)"><text x="389.93" y="520.33" textLength="12.06" lengthAdjust="spacingAndGlyphs">6</text></g>
<g font-size="20.96" transform="rotate(-28 426.64 513.1)"><text x="420.98" y="520.33" textLength="11.35" lengthAdjust="spacingAndGlyphs">7</text></g>
<g font-size="20.96" transform="rotate(-28 457.28 513.1)"><text x="451.4" y="520.33" textLength="11.69" lengthAdjust="spacingAndGlyphs">8</text></g>
<g font-size="20.96" transform="rotate(-28 487.92 513.1)"><text x="482.03" y="520.33" textLength="11.81" lengthAdjust="spacingAndGlyphs">9</text></g>
<g font-size="21.04"><text x="255.93" y="542.1" textLength="11.41" lengthAdjust="spacingAndGlyphs">E</text><text x="268.16" y="542.1" textLength="18.88" lengthAdjust="spacingAndGlyphs">m</text><text x="287.54" y="542.1" textLength="12.01" lengthAdjust="spacingAndGlyphs">b</text><text x="299.87" y="542.1" textLength="11.98" lengthAdjust="spacingAndGlyphs">e</text><text x="312.17" y="542.1" textLength="12.01" lengthAdjust="spacingAndGlyphs">d</text><text x="324.76" y="542.1" textLength="12.01" lengthAdjust="spacingAndGlyphs">d</text><text x="337.71" y="542.1" textLength="4.41" lengthAdjust="spacingAndGlyphs">i</text><text x="343.02" y="542.1" textLength="11.94" lengthAdjust="spacingAndGlyphs">n</text><text x="355.42" y="542.1" textLength="12.01" lengthAdjust="spacingAndGlyphs">g</text></g>
<g font-size="21"><text x="374.34" y="542.1" textLength="11.99" lengthAdjust="spacingAndGlyphs">d</text><text x="387.27" y="542.1" textLength="4.4" lengthAdjust="spacingAndGlyphs">i</text><text x="392.49" y="542.1" textLength="18.85" lengthAdjust="spacingAndGlyphs">m</text><text x="411.58" y="542.1" textLength="11.96" lengthAdjust="spacingAndGlyphs">e</text><text x="424.03" y="542.1" textLength="11.92" lengthAdjust="spacingAndGlyphs">n</text><text x="436.71" y="542.1" textLength="9.44" lengthAdjust="spacingAndGlyphs">s</text><text x="447.1" y="542.1" textLength="4.4" lengthAdjust="spacingAndGlyphs">i</text><text x="452.26" y="542.1" textLength="11.59" lengthAdjust="spacingAndGlyphs">o</text><text x="464.5" y="542.1" textLength="11.92" lengthAdjust="spacingAndGlyphs">n</text></g>
<g font-size="20.65" transform="translate(187.4 490.1) rotate(-90)"><text x="-1.53" y="0" textLength="13.8" lengthAdjust="spacingAndGlyphs">N</text><text x="13.09" y="0" textLength="11.63" lengthAdjust="spacingAndGlyphs">S</text><text x="25.01" y="0" textLength="6.88" lengthAdjust="spacingAndGlyphs">-</text><text x="32.09" y="0" textLength="13.08" lengthAdjust="spacingAndGlyphs">A</text><text x="45.52" y="0" textLength="13.81" lengthAdjust="spacingAndGlyphs">U</text><text x="59.71" y="0" textLength="13.16" lengthAdjust="spacingAndGlyphs">C</text></g>
<g font-size="20.86" transform="translate(187.4 408.2) rotate(-90)"><text x="-1" y="0" textLength="5.56" lengthAdjust="spacingAndGlyphs">(</text><text x="6.42" y="0" textLength="13.94" lengthAdjust="spacingAndGlyphs">N</text><text x="21.5" y="0" textLength="14.79" lengthAdjust="spacingAndGlyphs">=</text><text x="37.85" y="0" textLength="11.06" lengthAdjust="spacingAndGlyphs">1</text><text x="50.13" y="0" textLength="11.62" lengthAdjust="spacingAndGlyphs">0</text><text x="62.64" y="0" textLength="11.62" lengthAdjust="spacingAndGlyphs">0</text></g>
<g font-size="21.71" transform="translate(187.4 325.3) rotate(-90)"><text x="-1.33" y="0" textLength="4.55" lengthAdjust="spacingAndGlyphs">i</text><text x="3.84" y="0" textLength="7.69" lengthAdjust="spacingAndGlyphs">t</text><text x="11.89" y="0" textLength="12.36" lengthAdjust="spacingAndGlyphs">e</text><text x="24.49" y="0" textLength="8.72" lengthAdjust="spacingAndGlyphs">r</text><text x="34.22" y="0" textLength="5.9" lengthAdjust="spacingAndGlyphs">)</text></g>
</g>
</svg>
</body>
</html>
